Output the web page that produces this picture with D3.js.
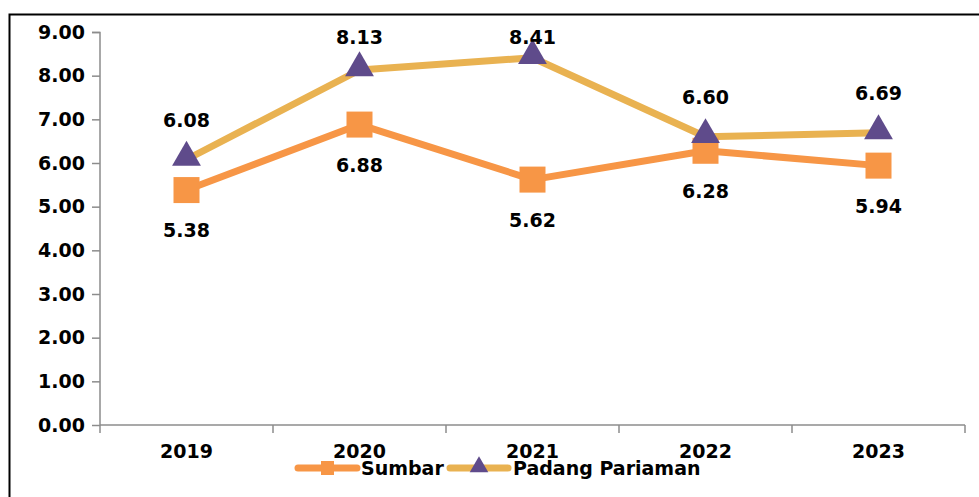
<!DOCTYPE html>
<html><head><meta charset="utf-8">
<script src="https://cdn.jsdelivr.net/npm/d3@7"></script>
<style>body{margin:0;background:#fff}svg{display:block}text{font-family:"DejaVu Sans",Verdana,sans-serif;font-weight:bold;fill:#000}</style>
</head><body>
<script>
const years = ["2019","2020","2021","2022","2023"];
const sumbar = [5.38, 6.88, 5.62, 6.28, 5.94];
const padang = [6.08, 8.13, 8.41, 6.60, 6.69];
const yTicks = [0,1,2,3,4,5,6,7,8,9];
const seriesNames = ["Sumbar", "Padang Pariaman"];

const W = 979, H = 497;
const svg = d3.select("body").append("svg").attr("width", W).attr("height", H);
svg.append("rect").attr("x",9.5).attr("y",14.5).attr("width",W).attr("height",H).attr("fill","none").attr("stroke","#000").attr("stroke-width",2);

const x = d3.scaleBand().domain(years).range([100, 965]);
const y = d3.scaleLinear().domain([0, 9]).range([425, 32]);
const axisColor = "#8c8c8c";

// y axis
const ya = svg.append("g").attr("transform","translate(100,0)")
  .call(d3.axisLeft(y).tickValues(yTicks).tickFormat(d3.format(".2f")).tickSize(8).tickPadding(7));
ya.select(".domain").attr("stroke", axisColor).attr("stroke-width",1.5).attr("d","M-8,32.5H0V425.5");
ya.selectAll(".tick line").attr("stroke", axisColor).attr("stroke-width",1.5);
ya.selectAll("text").attr("font-size",19).attr("font-family","DejaVu Sans").attr("font-weight","bold").attr("fill","#000");

// x axis
const xa = svg.append("g").attr("transform","translate(0,425)");
xa.append("line").attr("x1",100).attr("x2",965).attr("stroke",axisColor).attr("stroke-width",1.5);
const bounds = years.map(d => x(d)).concat([x.range()[1]]);
xa.selectAll("line.t").data(bounds).enter().append("line").attr("class","t")
  .attr("x1",d=>d).attr("x2",d=>d).attr("y1",0).attr("y2",8).attr("stroke",axisColor).attr("stroke-width",1.5);
xa.selectAll("text").data(years).enter().append("text")
  .attr("x", d => x(d) + x.bandwidth()/2).attr("y", 33).attr("text-anchor","middle").attr("font-size",19).text(d=>d);

const cx = d => x(d) + x.bandwidth()/2;
const line = d3.line().x((d,i)=>cx(years[i])).y(d=>y(d));
const cS = "#f79646", cP = "#e9b251", cT = "#5f4b8b";

svg.append("path").datum(sumbar).attr("d", line).attr("fill","none").attr("stroke",cS).attr("stroke-width",7).attr("stroke-linejoin","round");
svg.append("path").datum(padang).attr("d", line).attr("fill","none").attr("stroke",cP).attr("stroke-width",7).attr("stroke-linejoin","round");

const sq = 26;
svg.selectAll("rect.s").data(sumbar).enter().append("rect").attr("class","s")
  .attr("x",(d,i)=>cx(years[i])-sq/2).attr("y",d=>y(d)-sq/2).attr("width",sq).attr("height",sq).attr("fill",cS);
const tri = d3.symbol().type(d3.symbolTriangle).size(360);
svg.selectAll("path.p").data(padang).enter().append("path").attr("class","p")
  .attr("transform",(d,i)=>`translate(${cx(years[i])},${y(d)-2})`).attr("d",tri).attr("fill",cT);

svg.selectAll("text.ls").data(sumbar).enter().append("text").attr("class","ls")
  .attr("x",(d,i)=>cx(years[i])).attr("y",d=>y(d)+47).attr("text-anchor","middle").attr("font-size",19).text(d=>d.toFixed(2));
svg.selectAll("text.lp").data(padang).enter().append("text").attr("class","lp")
  .attr("x",(d,i)=>cx(years[i])).attr("y",d=>Math.max(y(d)-33, 44)).attr("text-anchor","middle").attr("font-size",19).text(d=>d.toFixed(2));

// legend
const lg = svg.append("g").attr("transform","translate(0,468)");
lg.append("line").attr("x1",298).attr("x2",357).attr("stroke",cS).attr("stroke-width",7).attr("stroke-linecap","round");
lg.append("rect").attr("x",321).attr("y",-7).attr("width",13).attr("height",14).attr("fill",cS);
lg.append("text").attr("x",361).attr("y",7).attr("font-size",19).text(seriesNames[0]);
lg.append("line").attr("x1",450).attr("x2",508).attr("stroke",cP).attr("stroke-width",7).attr("stroke-linecap","round");
lg.append("path").attr("transform","translate(479,-1)").attr("d",d3.symbol().type(d3.symbolTriangle).size(150)).attr("fill",cT);
lg.append("text").attr("x",513).attr("y",7).attr("font-size",19).text(seriesNames[1]);
</script>
</body></html>
